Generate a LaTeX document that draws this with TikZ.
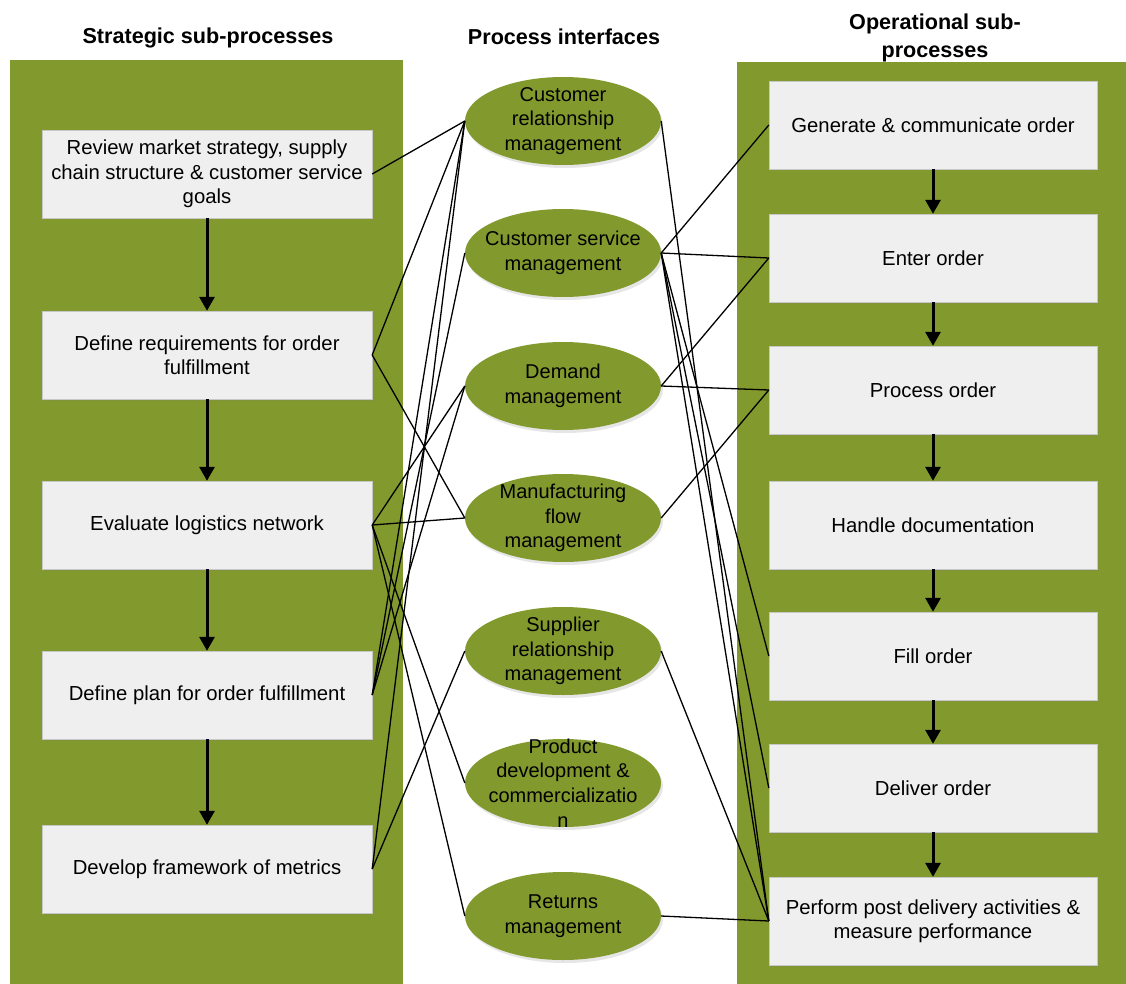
\documentclass[tikz,border=0pt]{standalone}
\usepackage{fontspec}
\setmainfont{Liberation Sans}
\usetikzlibrary{shapes.geometric,arrows.meta,shadows}
\definecolor{panelgreen}{RGB}{130,153,46}
\definecolor{boxgray}{RGB}{239,239,239}

\begin{document}
\begin{tikzpicture}[
    x=1pt, y=-1pt,
    panel/.style={fill=panelgreen, draw=black!25},
    box/.style={draw=black!22, rectangle, fill=boxgray, minimum width=330pt,
        minimum height=88pt, align=center, inner sep=2pt,
        font=\fontsize{20.3}{24.5}\selectfont,
        drop shadow={shadow xshift=1.5pt, shadow yshift=-1.5pt, opacity=0.18}},
    iface/.style={ellipse, fill=panelgreen, minimum width=196pt,
        minimum height=88pt, inner sep=0pt,
        drop shadow={shadow xshift=2pt, shadow yshift=-3pt, opacity=0.2}},
    ifacetext/.style={align=center, inner sep=0pt,
        font=\fontsize{20}{24.8}\selectfont},
    title/.style={align=center, font=\bfseries\fontsize{21.6}{28}\selectfont},
    arrow/.style={-{Triangle[length=14pt, width=15pt]}, line width=3pt},
    link/.style={line width=1.3pt},
]
\useasboundingbox (0,0) rectangle (1126,984);

% columns
\fill[panelgreen] (10,60) rectangle (403,984);
\fill[panelgreen] (737,62) rectangle (1126,984);

\node[title] (tstrat) at (208,38) {Strategic sub-processes};
\node[title] (tproc) at (564,37) {Process interfaces};
\node[title] (toper) at (935,38) {Operational sub-\\processes};

% strategic sub-processes
\node[box] (s1) at (207,174) {Review market strategy, supply\\chain structure \& customer service\\goals};
\node[box] (s2) at (207,355) {Define requirements for order\\fulfillment};
\node[box] (s3) at (207,525) {Evaluate logistics network};
\node[box] (s4) at (207,695) {Define plan for order fulfillment};
\node[box] (s5) at (207,869) {Develop framework of metrics};

% process interfaces
\node[iface, label={[ifacetext]center:Customer\\relationship\\management}] (crm) at (563,121) {};
\node[iface, label={[ifacetext]center:Customer service\\management}] (csm) at (563,253) {};
\node[iface, label={[ifacetext]center:Demand\\management}] (dem) at (563,386) {};
\node[iface, label={[ifacetext]center:Manufacturing\\flow\\management}] (mfm) at (563,518) {};
\node[iface, label={[ifacetext]center:Supplier\\relationship\\management}] (srm) at (563,651) {};
\node[iface, label={[ifacetext]center:Product\\development \&\\commercializatio\\n}] (pdc) at (563,783) {};
\node[iface, label={[ifacetext]center:Returns\\management}] (ret) at (563,916) {};

% operational sub-processes
\node[box, minimum width=328pt] (r1) at (933,125) {Generate \& communicate order};
\node[box, minimum width=328pt] (r2) at (933,258) {Enter order};
\node[box, minimum width=328pt] (r3) at (933,390) {Process order};
\node[box, minimum width=328pt] (r4) at (933,525) {Handle documentation};
\node[box, minimum width=328pt] (r5) at (933,656) {Fill order};
\node[box, minimum width=328pt] (r6) at (933,788) {Deliver order};
\node[box, minimum width=328pt] (r7) at (933,921) {Perform post delivery activities \&\\measure performance};

% flow arrows
\draw[arrow] (s1) -- (s2);
\draw[arrow] (s2) -- (s3);
\draw[arrow] (s3) -- (s4);
\draw[arrow] (s4) -- (s5);
\draw[arrow] (r1) -- (r2);
\draw[arrow] (r2) -- (r3);
\draw[arrow] (r3) -- (r4);
\draw[arrow] (r4) -- (r5);
\draw[arrow] (r5) -- (r6);
\draw[arrow] (r6) -- (r7);

% strategic links
\draw[link] (s1.east) -- (crm.west);
\draw[link] (s2.east) -- (crm.west);
\draw[link] (s2.east) -- (mfm.west);
\draw[link] (s3.east) -- (dem.west);
\draw[link] (s3.east) -- (mfm.west);
\draw[link] (s3.east) -- (pdc.west);
\draw[link] (s3.east) -- (ret.west);
\draw[link] (s4.east) -- (crm.west);
\draw[link] (s4.east) -- (csm.west);
\draw[link] (s4.east) -- (dem.west);
\draw[link] (s5.east) -- (crm.west);
\draw[link] (s5.east) -- (srm.west);

% operational links
\draw[link] (csm.east) -- (r1.west);
\draw[link] (csm.east) -- (r2.west);
\draw[link] (dem.east) -- (r2.west);
\draw[link] (dem.east) -- (r3.west);
\draw[link] (mfm.east) -- (r3.west);
\draw[link] (csm.east) -- (r5.west);
\draw[link] (csm.east) -- (r6.west);
\draw[link] (csm.east) -- (r7.west);
\draw[link] (crm.east) -- (r7.west);
\draw[link] (srm.east) -- (r7.west);
\draw[link] (ret.east) -- (r7.west);

\end{tikzpicture}
\end{document}
